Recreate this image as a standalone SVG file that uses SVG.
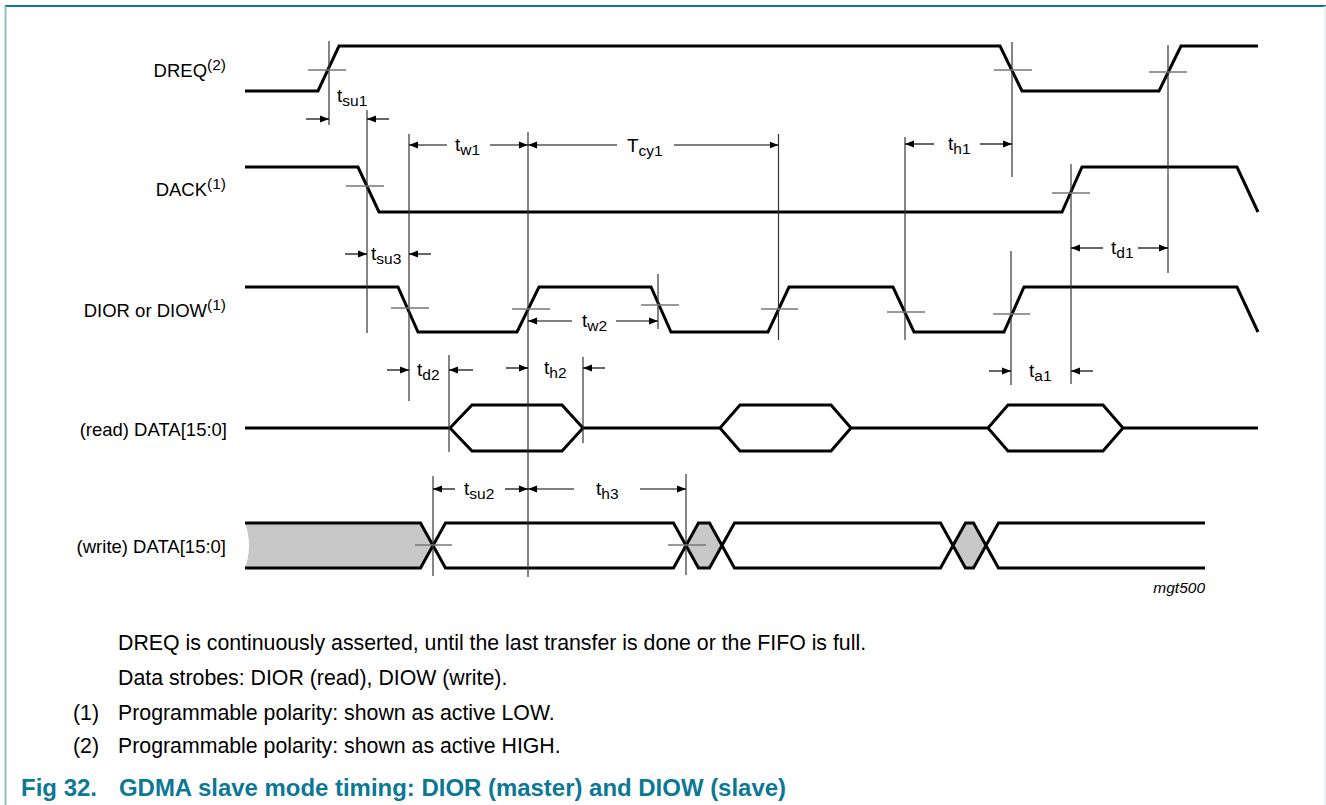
<svg xmlns="http://www.w3.org/2000/svg" width="1326" height="805" viewBox="0 0 1326 805">
<style>
.sig{fill:none;stroke:#000;stroke-width:3;stroke-linejoin:miter}
.vl{stroke:#333;stroke-width:1.2;fill:none}
.xh{stroke:#777;stroke-width:1.5;fill:none}
.dim{stroke:#000;stroke-width:1.2;fill:none;marker-end:url(#ah)}
.lbl{font-family:"Liberation Sans",Arial,sans-serif;font-size:18.5px;fill:#000;text-anchor:end}
.sup{font-size:15.5px}
.tl{font-family:"Liberation Sans",Arial,sans-serif;font-size:19px;fill:#000}
.sub{font-size:15.5px}
.note{font-family:"Liberation Sans",Arial,sans-serif;font-size:21.3px;fill:#000}
.title{font-family:"Liberation Sans",Arial,sans-serif;font-size:24px;font-weight:bold;fill:#0b7896}
.grey{fill:#c8c8c8;stroke:none}
</style>
<defs>
<marker id="ah" markerUnits="userSpaceOnUse" markerWidth="10" markerHeight="8" refX="9" refY="4" orient="auto">
<path d="M0,0.5 L9,4 L0,7.5 Z" fill="#000"/>
</marker>
</defs>

<!-- frame -->
<g id="frame">
<line x1="5" y1="6" x2="1326" y2="6" stroke="#0b7896" stroke-width="2"/>
<line x1="5.5" y1="6" x2="5.5" y2="805" stroke="#8fc1d2" stroke-width="2"/>
<line x1="1325" y1="6" x2="1325" y2="805" stroke="#e2eef2" stroke-width="1.5"/>
</g>

<!-- signal labels -->
<g id="labels">
<text class="lbl" x="226" y="77">DREQ<tspan class="sup" dy="-7">(2)</tspan></text>
<text class="lbl" x="226" y="196">DACK<tspan class="sup" dy="-7">(1)</tspan></text>
<text class="lbl" x="226" y="317">DIOR or DIOW<tspan class="sup" dy="-7">(1)</tspan></text>
<text class="lbl" x="227" y="436">(read) DATA[15:0]</text>
<text class="lbl" x="226" y="553">(write) DATA[15:0]</text>
</g>

<!-- waveforms -->
<g id="DREQ">
<polyline class="sig" points="245,91 318,91 339,46 1000,46 1022,91 1159,91 1181,46 1258,46"/>
</g>
<g id="DACK">
<polyline class="sig" points="245,167 358,167 379,212 1062,212 1082,167 1237,167 1258,212"/>
</g>
<g id="DIOR">
<polyline class="sig" points="245,287 398,287 418,332 517,332 539,287 651,287 671,332 768,332 789,287 893,287 914,332 1004,332 1024,287 1237,287 1258,332"/>
</g>
<g id="readdata">
<path class="sig" d="M245,428 L450,428 L472,405 L562,405 L583,428 L720,428 L740,405 L831,405 L851,428 L988,428 L1008,405 L1103,405 L1123,428 L1258,428 M450,428 L472,451 L562,451 L583,428 M720,428 L740,451 L831,451 L851,428 M988,428 L1008,451 L1103,451 L1123,428"/>
</g>
<g id="writedata">
<path class="grey" d="M245,523 L420.5,523 L433,545.5 L420.5,568 L245,568 Q253,545.5 245,523 Z"/>
<path class="grey" d="M686,545.5 L698.5,523 L709.5,523 L722,545.5 L709.5,568 L698.5,568 Z"/>
<path class="grey" d="M953,545.5 L965.5,523 L973.5,523 L986,545.5 L973.5,568 L965.5,568 Z"/>
<path class="sig" d="M245,523 L420.5,523 L445.5,568 L673.5,568 L698.5,523 L709.5,523 L734.5,568 L940.5,568 L965.5,523 L973.5,523 L998.5,568 L1205,568 M245,568 L420.5,568 L445.5,523 L673.5,523 L698.5,568 L709.5,568 L734.5,523 L940.5,523 L965.5,568 L973.5,568 L998.5,523 L1205,523"/>
</g>

<!-- reference verticals and crosshairs -->
<g id="connectors">
<line class="vl" x1="329" y1="41" x2="329" y2="125"/>
<line class="vl" x1="367" y1="110" x2="367" y2="333"/>
<line class="vl" x1="409" y1="134" x2="409" y2="401"/>
<line class="vl" x1="449" y1="355" x2="449" y2="452"/>
<line class="vl" x1="528" y1="132" x2="528" y2="577"/>
<line class="vl" x1="583" y1="357" x2="583" y2="443"/>
<line class="vl" x1="658" y1="274" x2="658" y2="329"/>
<line class="vl" x1="778.5" y1="134" x2="778.5" y2="340"/>
<line class="vl" x1="905" y1="137" x2="905" y2="340"/>
<line class="vl" x1="1012" y1="42" x2="1012" y2="177"/>
<line class="vl" x1="1011" y1="251" x2="1011" y2="385"/>
<line class="vl" x1="1071" y1="164" x2="1071" y2="384"/>
<line class="vl" x1="1168" y1="45" x2="1168" y2="273"/>
<line class="vl" x1="433" y1="476" x2="433" y2="576"/>
<line class="vl" x1="686" y1="474" x2="686" y2="575"/>

<line class="xh" x1="308" y1="70" x2="346" y2="70"/>
<line class="xh" x1="994" y1="70" x2="1032" y2="70"/>
<line class="xh" x1="1149" y1="72" x2="1187" y2="72"/>
<line class="xh" x1="346" y1="186" x2="384" y2="186"/>
<line class="xh" x1="1052" y1="193" x2="1090" y2="193"/>
<line class="xh" x1="391" y1="308" x2="429" y2="308"/>
<line class="xh" x1="512" y1="309" x2="550" y2="309"/>
<line class="xh" x1="641" y1="305" x2="679" y2="305"/>
<line class="xh" x1="761" y1="309" x2="798" y2="309"/>
<line class="xh" x1="887" y1="312" x2="925" y2="312"/>
<line class="xh" x1="993" y1="314" x2="1030" y2="314"/>
<line class="xh" x1="415" y1="545" x2="452" y2="545"/>
<line class="xh" x1="668" y1="545" x2="706" y2="545"/>

<!-- dimension arrows -->
<line class="dim" x1="306" y1="119" x2="329" y2="119"/>
<line class="dim" x1="389" y1="119" x2="367" y2="119"/>
<line class="dim" x1="447" y1="145" x2="409" y2="145"/>
<line class="dim" x1="490" y1="145" x2="528" y2="145"/>
<line class="dim" x1="617" y1="145" x2="528" y2="145"/>
<line class="dim" x1="674" y1="145" x2="778.5" y2="145"/>
<line class="dim" x1="934" y1="144" x2="905" y2="144"/>
<line class="dim" x1="980" y1="144" x2="1012" y2="144"/>
<line class="dim" x1="1103" y1="248" x2="1071" y2="248"/>
<line class="dim" x1="1138" y1="248" x2="1168" y2="248"/>
<line class="dim" x1="345" y1="254" x2="367" y2="254"/>
<line class="dim" x1="431" y1="254" x2="409" y2="254"/>
<line class="dim" x1="572" y1="321" x2="528" y2="321"/>
<line class="dim" x1="616" y1="321" x2="658" y2="321"/>
<line class="dim" x1="387" y1="370" x2="409" y2="370"/>
<line class="dim" x1="473" y1="370" x2="449" y2="370"/>
<line class="dim" x1="506" y1="368" x2="528" y2="368"/>
<line class="dim" x1="605" y1="368" x2="583" y2="368"/>
<line class="dim" x1="989" y1="371" x2="1011" y2="371"/>
<line class="dim" x1="1093" y1="371" x2="1071" y2="371"/>
<line class="dim" x1="455" y1="489" x2="433" y2="489"/>
<line class="dim" x1="505" y1="489" x2="528" y2="489"/>
<line class="dim" x1="574" y1="489" x2="528" y2="489"/>
<line class="dim" x1="640" y1="489" x2="686" y2="489"/>
</g>

<!-- timing labels -->
<g id="timing-labels">
<text class="tl" x="337" y="102">t<tspan class="sub" dy="4">su1</tspan></text>
<text class="tl" x="455" y="151">t<tspan class="sub" dy="4">w1</tspan></text>
<text class="tl" x="627" y="152">T<tspan class="sub" dy="4">cy1</tspan></text>
<text class="tl" x="948" y="150">t<tspan class="sub" dy="4">h1</tspan></text>
<text class="tl" x="1111" y="254">t<tspan class="sub" dy="4">d1</tspan></text>
<text class="tl" x="371" y="260">t<tspan class="sub" dy="4">su3</tspan></text>
<text class="tl" x="582" y="327">t<tspan class="sub" dy="4">w2</tspan></text>
<text class="tl" x="417" y="376">t<tspan class="sub" dy="4">d2</tspan></text>
<text class="tl" x="544" y="374">t<tspan class="sub" dy="4">h2</tspan></text>
<text class="tl" x="1029" y="377">t<tspan class="sub" dy="4">a1</tspan></text>
<text class="tl" x="464" y="495">t<tspan class="sub" dy="4">su2</tspan></text>
<text class="tl" x="596" y="495">t<tspan class="sub" dy="4">h3</tspan></text>
<text x="1205" y="593" font-family="Liberation Sans, Arial, sans-serif" font-size="15.5" font-style="italic" text-anchor="end">mgt500</text>
</g>

<!-- notes -->
<g id="notes">
<text class="note" x="118" y="650">DREQ is continuously asserted, until the last transfer is done or the FIFO is full.</text>
<text class="note" x="118" y="685">Data strobes: DIOR (read), DIOW (write).</text>
<text class="note" x="73" y="720">(1)</text>
<text class="note" x="118" y="720">Programmable polarity: shown as active LOW.</text>
<text class="note" x="73" y="753">(2)</text>
<text class="note" x="118" y="753">Programmable polarity: shown as active HIGH.</text>
<text class="title" x="21" y="796">Fig 32.</text>
<text class="title" x="119" y="796" textLength="667" lengthAdjust="spacingAndGlyphs">GDMA slave mode timing: DIOR (master) and DIOW (slave)</text>
</g>
</svg>
